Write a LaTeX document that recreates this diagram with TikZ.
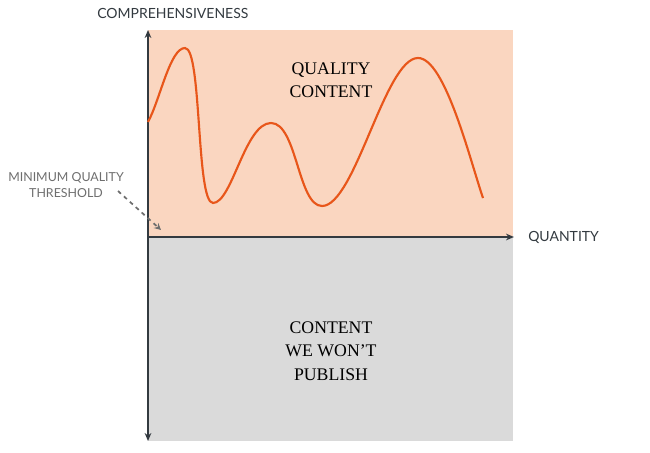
\documentclass[tikz,border=0pt]{standalone}
\usepackage{fontspec}
\setmainfont{Liberation Serif}
\setsansfont{Lato}
\usetikzlibrary{arrows.meta}
\definecolor{peach}{HTML}{FAD6C0}
\definecolor{grayarea}{HTML}{DADADA}
\definecolor{axisc}{HTML}{333A40}
\definecolor{curvec}{HTML}{E8561A}
\definecolor{notec}{HTML}{6E6E6E}
\begin{document}
\begin{tikzpicture}[x=0.75pt,y=-0.75pt,
  axislbl/.style={font=\sffamily\fontsize{10.5}{13}\selectfont,text=axisc,inner sep=0},
  notelbl/.style={font=\sffamily\fontsize{9.3}{12}\selectfont,text=notec,align=center,inner sep=0},
  arealbl/.style={font=\fontsize{13.3}{17.5}\selectfont,text=black,align=center,inner sep=0},
  axisline/.style={draw=axisc,line width=1.2pt,-{Stealth[length=6pt,width=5pt]}}]
\useasboundingbox (0,0) rectangle (650,453);
\fill[peach] (148,30) rectangle (513,236);
\fill[grayarea] (148,238) rectangle (513,441);
\coordinate (o) at (148,237);
\coordinate (top) at (148,30);
\coordinate (bot) at (148,441);
\coordinate (right) at (514,237);
\draw[axisline] (o) -- (top);
\draw[axisline] (o) -- (bot);
\draw[axisline] (o) -- (right);
\node[axislbl,anchor=west] (ylab) at (97,13) {COMPREHENSIVENESS};
\node[axislbl,anchor=west] (xlab) at (528,237) {QUANTITY};
\node[arealbl] (qc) at (331,80) {QUALITY\\CONTENT};
\node[arealbl] (cw) at (331,351) {CONTENT\\WE WON’T\\PUBLISH};
\node[notelbl] (note) at (66,185) {MINIMUM QUALITY\\THRESHOLD};
\coordinate (tip) at (161,230);
\draw[notec,line width=1.3pt,dashed,-{Stealth[length=5pt,width=5pt]}] (118,191) -- (tip);
\draw[curvec,line width=1.6pt] (148,122)
  .. controls (160,100) and (170,48) .. (185,48)
  .. controls (202,48) and (196,203) .. (213,203)
  .. controls (232,203) and (245,123) .. (271,123)
  .. controls (297,123) and (298,206) .. (322,206)
  .. controls (355,206) and (385,58) .. (418,58)
  .. controls (445,58) and (470,160) .. (483,198);
\end{tikzpicture}
\end{document}
